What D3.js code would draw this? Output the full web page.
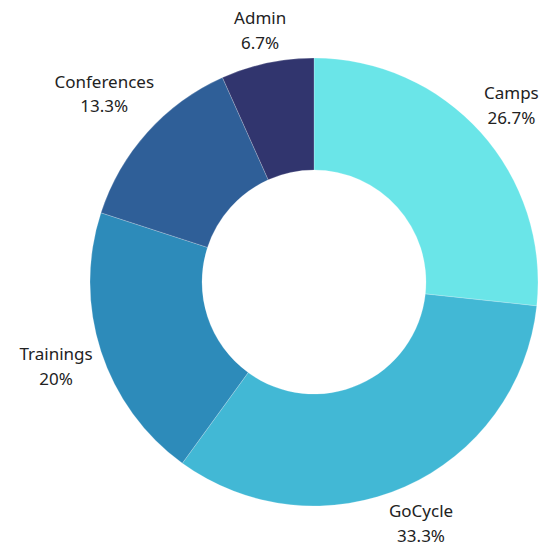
<!DOCTYPE html>
<html>
<head>
<meta charset="utf-8">
<script src="https://cdn.jsdelivr.net/npm/d3@7"></script>
<style>
  body { margin: 0; background: #fff; }
  text { font-family: "Noto Sans", "Open Sans", sans-serif; font-size: 17px; fill: #222; }
</style>
</head>
<body>
<svg id="chart"></svg>
<script>
const categories = ['Camps', 'GoCycle', 'Trainings', 'Conferences', 'Admin'];
const values = [26.7, 33.3, 20, 13.3, 6.7];
const labels = ['26.7%', '33.3%', '20%', '13.3%', '6.7%'];
const colors = ['#6ae5e8', '#42b8d5', '#2d8bba', '#2f5f98', '#31356e'];

const width = 543, height = 544;
const cx = 314, cy = 282;
const outer = 224, inner = 112;

const svg = d3.select('#chart')
    .attr('width', width)
    .attr('height', height);
const g = svg.append('g')
    .attr('transform', `translate(${cx}, ${cy})`);

const data = categories.map((c, i) => ({ name: c, value: values[i], label: labels[i], color: colors[i] }));

const pie = d3.pie()
    .value(d => d.value)
    .sort(null);
const arc = d3.arc()
    .innerRadius(inner)
    .outerRadius(outer);

const arcs = pie(data);

g.selectAll('path')
    .data(arcs)
    .enter()
    .append('path')
    .attr('d', arc)
    .attr('fill', d => d.data.color)
    .attr('stroke', 'rgba(255,255,255,0.35)')
    .attr('stroke-width', 0.6);

// labels: two lines, pushed outwards until the box clears the ring
const gap = 5;
arcs.forEach(d => {
    const a = (d.startAngle + d.endAngle) / 2;
    const t = g.append('text')
        .attr('text-anchor', 'middle');
    t.append('tspan').attr('x', 0).attr('dy', '-0.2em').text(d.data.name);
    t.append('tspan').attr('x', 0).attr('dy', '1.45em').text(d.data.label);
    const bb = t.node().getBBox();
    const midY = bb.y + bb.height / 2;
    const r = outer + gap + Math.abs(Math.sin(a)) * bb.width / 2 + Math.abs(Math.cos(a)) * bb.height / 2;
    const x = Math.sin(a) * r;
    const y = -Math.cos(a) * r - midY;
    t.attr('transform', `translate(${x}, ${y})`);
});
</script>
</body>
</html>
